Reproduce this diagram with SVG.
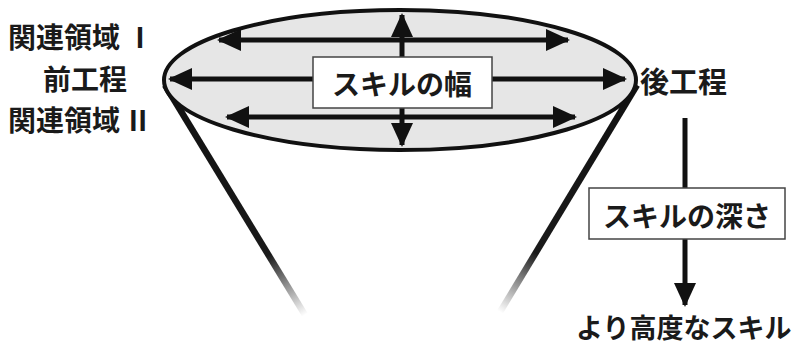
<svg xmlns="http://www.w3.org/2000/svg" width="798" height="347" viewBox="0 0 798 347">
<style>
.t{font-family:"Noto Sans CJK JP","Noto Sans",sans-serif;font-weight:bold;fill:#1a1a1a}
.a{stroke:#111;stroke-width:5;fill:none}
.box{fill:#fff;stroke:#444;stroke-width:1.5}
</style>
<defs>
<marker id="ah" markerUnits="userSpaceOnUse" markerWidth="24" markerHeight="24" viewBox="0 0 24 24" refX="22" refY="12" orient="auto-start-reverse">
<path d="M0,1 L24,12 L0,23 Z" fill="#111"/>
</marker>
<linearGradient id="gl" gradientUnits="userSpaceOnUse" x1="165" y1="85" x2="305" y2="315">
<stop offset="0" stop-color="#111"/><stop offset="0.74" stop-color="#1a1a1a"/><stop offset="1" stop-color="#222" stop-opacity="0"/>
</linearGradient>
<linearGradient id="gr" gradientUnits="userSpaceOnUse" x1="637" y1="85" x2="500" y2="312">
<stop offset="0" stop-color="#111"/><stop offset="0.74" stop-color="#1a1a1a"/><stop offset="1" stop-color="#222" stop-opacity="0"/>
</linearGradient>
</defs>
<rect width="798" height="347" fill="#fff"/>
<g id="cone">
<line x1="165" y1="85" x2="305" y2="315" stroke="url(#gl)" stroke-width="6.5"/>
<line x1="637" y1="85" x2="500" y2="312" stroke="url(#gr)" stroke-width="6.5"/>
</g>
<g id="ellipse">
<ellipse cx="400" cy="80" rx="236" ry="70" fill="#e6e6e6" stroke="#111" stroke-width="4"/>
</g>
<g id="connectors">
<line class="a" x1="219" y1="40" x2="568" y2="40" marker-start="url(#ah)" marker-end="url(#ah)"/>
<line class="a" x1="227" y1="117" x2="575" y2="117" marker-start="url(#ah)" marker-end="url(#ah)"/>
<line class="a" x1="170" y1="79" x2="314" y2="79" marker-start="url(#ah)"/>
<line class="a" x1="491" y1="79" x2="625" y2="79" marker-end="url(#ah)"/>
<line class="a" x1="402" y1="15" x2="402" y2="58" marker-start="url(#ah)"/>
<line class="a" x1="402" y1="107" x2="402" y2="145" marker-end="url(#ah)"/>
<line class="a" x1="685" y1="118" x2="685" y2="188"/>
<line class="a" x1="685" y1="239" x2="685" y2="305" marker-end="url(#ah)"/>
</g>
<g id="width-box">
<rect class="box" x="313" y="57" width="179" height="51"/>
<text class="t" x="402" y="95" font-size="28" text-anchor="middle">スキルの幅</text>
</g>
<g id="depth-box">
<rect class="box" x="589" y="188" width="196" height="51"/>
<text class="t" x="687" y="227" font-size="28" text-anchor="middle">スキルの深さ</text>
</g>
<g id="labels">
<text class="t" x="8" y="48" font-size="28">関連領域<tspan dx="6">Ⅰ</tspan></text>
<text class="t" x="43" y="90" font-size="28">前工程</text>
<text class="t" x="8" y="131" font-size="28">関連領域<tspan dx="4">Ⅱ</tspan></text>
<text class="t" x="640" y="93" font-size="29">後工程</text>
<text class="t" x="576" y="338" font-size="27">より高度なスキル</text>
</g>
</svg>
